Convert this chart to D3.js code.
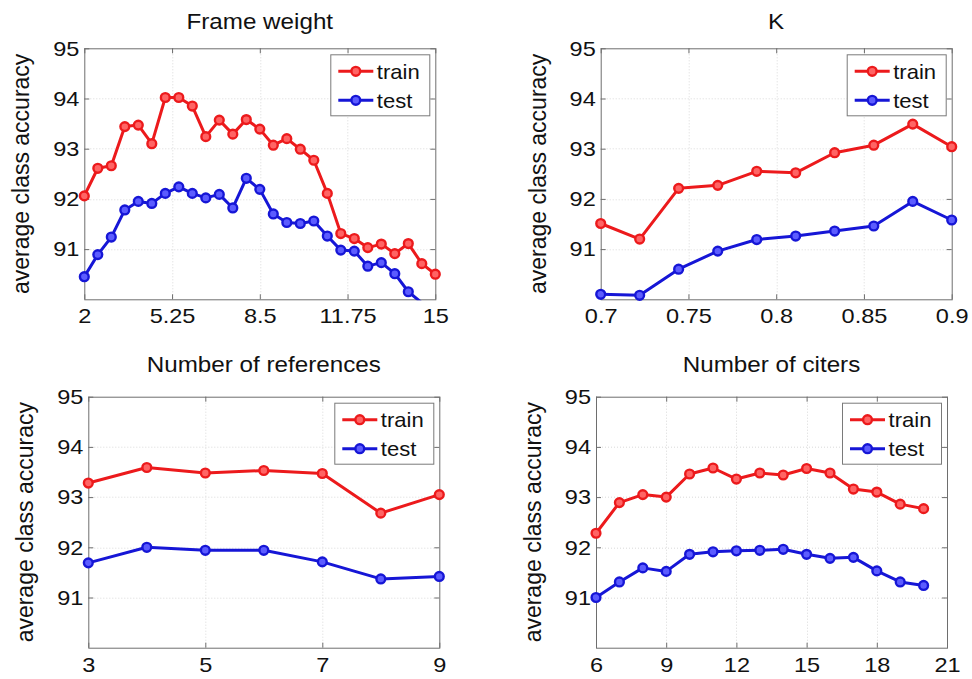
<!DOCTYPE html>
<html>
<head>
<meta charset="utf-8">
<script src="https://cdn.jsdelivr.net/npm/d3@7"></script>
<style>
  html, body { margin: 0; padding: 0; background: #fff; }
  svg { display: block; font-family: "Liberation Sans", Arial, sans-serif; }
</style>
</head>
<body>
<svg id="chart" width="972" height="679"></svg>
<script>
// ---- data ----
const accuracyTicks = [91, 92, 93, 94, 95];

const frameWeight = [2, 2.5, 3, 3.5, 4, 4.5, 5, 5.5, 6, 6.5, 7, 7.5, 8, 8.5, 9,
  9.5, 10, 10.5, 11, 11.5, 12, 12.5, 13, 13.5, 14, 14.5, 15];
const frameTrain = [92.06, 92.61, 92.66, 93.44, 93.47, 93.10, 94.02, 94.02, 93.85, 93.24,
  93.57, 93.29, 93.58, 93.39, 93.07, 93.20, 92.99, 92.77, 92.11, 91.31, 91.21, 91.03,
  91.10, 90.91, 91.11, 90.71, 90.50];
const frameTest = [90.45, 90.89, 91.24, 91.78, 91.95, 91.91, 92.11, 92.24, 92.11, 92.02,
  92.09, 91.82, 92.41, 92.19, 91.70, 91.53, 91.51, 91.56, 91.26, 90.98, 90.96, 90.66,
  90.73, 90.51, 90.15, 89.93, 89.70];
const frameTicks = [2, 5.25, 8.5, 11.75, 15];

const kValues = [0.7, 0.7222, 0.7444, 0.7667, 0.7889, 0.8111, 0.8333, 0.8556, 0.8778, 0.9];
const kTrain = [91.51, 91.20, 92.21, 92.27, 92.55, 92.52, 92.92, 93.07, 93.49, 93.04];
const kTest = [90.10, 90.08, 90.60, 90.96, 91.19, 91.26, 91.36, 91.46, 91.95, 91.58];
const kTicks = [0.7, 0.75, 0.8, 0.85, 0.9];

const refCounts = [3, 4, 5, 6, 7, 8, 9];
const refTrain = [93.28, 93.59, 93.48, 93.53, 93.47, 92.68, 93.05];
const refTest = [91.69, 92.00, 91.94, 91.94, 91.71, 91.37, 91.42];
const refTicks = [3, 5, 7, 9];

const citerCounts = [6, 7, 8, 9, 10, 11, 12, 13, 14, 15, 16, 17, 18, 19, 20];
const citerTrain = [92.28, 92.89, 93.05, 93.00, 93.46, 93.58, 93.36, 93.48, 93.44, 93.57,
  93.48, 93.16, 93.10, 92.86, 92.77];
const citerTest = [91.00, 91.31, 91.59, 91.52, 91.86, 91.91, 91.93, 91.94, 91.96, 91.86,
  91.78, 91.80, 91.53, 91.31, 91.24];
const citerTicks = [6, 9, 12, 15, 18, 21];

const seriesNames = ["train", "test"];
const yLabel = "average class accuracy";

// ---- drawing ----
const svg = d3.select("#chart");
const colors = { train: "#ec1a1c", test: "#1616d6" };
const fills = { train: "#ff6464", test: "#5c5cff" };
const plotW = 351, plotH = 251;
const STRETCH = 1.12;

const panels = [
  { title: "Frame weight", xs: frameWeight, train: frameTrain, test: frameTest, ticks: frameTicks,
    left: 84.3, top: 48.3, titleY: 28.5 },
  { title: "K", xs: kValues, train: kTrain, test: kTest, ticks: kTicks,
    left: 600.7, top: 48.3, titleY: 28.5 },
  { title: "Number of references", xs: refCounts, train: refTrain, test: refTest, ticks: refTicks,
    left: 88.3, top: 396.7, titleY: 372 },
  { title: "Number of citers", xs: citerCounts, train: citerTrain, test: citerTest, ticks: citerTicks,
    left: 596, top: 396.7, titleY: 372 }
];

function stretchText(sel, k) {
  sel.each(function () {
    const L = this.getComputedTextLength();
    if (L > 0) d3.select(this).attr("textLength", L * k).attr("lengthAdjust", "spacingAndGlyphs");
  });
}

panels.forEach((p, i) => {
  const g = svg.append("g").attr("transform", `translate(${p.left},${p.top})`);
  const x = d3.scaleLinear().domain(d3.extent(p.ticks)).range([0, plotW]);
  const y = d3.scaleLinear().domain([90, 95]).range([plotH, 0]);

  // grid
  const grid = g.append("g").attr("stroke", "#d9d9d9").attr("stroke-width", 1)
    .attr("stroke-dasharray", "1,2");
  grid.selectAll("line.gx").data(p.ticks.slice(1, -1)).join("line")
    .attr("x1", d => Math.round(x(d)) + 0.5).attr("x2", d => Math.round(x(d)) + 0.5)
    .attr("y1", 0).attr("y2", plotH);
  grid.selectAll("line.gy").data(accuracyTicks.filter(v => v < 95)).join("line")
    .attr("x1", 0).attr("x2", plotW)
    .attr("y1", d => Math.round(y(d)) + 0.5).attr("y2", d => Math.round(y(d)) + 0.5);

  // axes with inward ticks
  const fmt = d => String(d);
  const ax = [
    g.append("g").attr("transform", `translate(0,${plotH})`)
      .call(d3.axisBottom(x).tickValues(p.ticks).tickSize(-5).tickPadding(9).tickFormat(fmt)),
    g.append("g").call(d3.axisTop(x).tickValues(p.ticks).tickSize(-5).tickFormat("")),
    g.append("g").call(d3.axisLeft(y).tickValues(accuracyTicks).tickSize(-5).tickPadding(5).tickFormat(fmt)),
    g.append("g").attr("transform", `translate(${plotW},0)`)
      .call(d3.axisRight(y).tickValues(accuracyTicks).tickSize(-5).tickFormat(""))
  ];
  ax.forEach(a => {
    a.select(".domain").remove();
    a.selectAll(".tick line").attr("stroke", "#6e6e6e");
    a.selectAll("text").attr("font-size", 21).attr("fill", "#111")
      .attr("font-family", "'Liberation Sans', Arial, sans-serif");
  });
  stretchText(ax[0].selectAll("text"), STRETCH);
  stretchText(ax[2].selectAll("text"), STRETCH);

  // frame
  g.append("rect").attr("x", 0.5).attr("y", 0.5).attr("width", plotW).attr("height", plotH)
    .attr("fill", "none").attr("stroke", "#6e6e6e").attr("stroke-width", 1);

  // series: lines clipped to the plot box, markers drawn whole when their centre is inside
  const clipId = "clip" + i;
  g.append("clipPath").attr("id", clipId).append("rect")
    .attr("x", 0).attr("y", 0).attr("width", plotW + 1).attr("height", plotH + 1);
  const plot = g.append("g").attr("clip-path", `url(#${clipId})`);
  const marks = g.append("g");
  seriesNames.forEach(name => {
    const pts = p.xs.map((v, j) => [v, p[name][j]]);
    plot.append("path").datum(pts)
      .attr("fill", "none").attr("stroke", colors[name]).attr("stroke-width", 3)
      .attr("stroke-linejoin", "round")
      .attr("d", d3.line().x(d => x(d[0])).y(d => y(d[1])));
    marks.selectAll(null).data(pts.filter(d => d[1] >= y.domain()[0])).join("circle")
      .attr("cx", d => x(d[0])).attr("cy", d => y(d[1])).attr("r", 4.4)
      .attr("fill", fills[name]).attr("stroke", colors[name]).attr("stroke-width", 2.4);
  });

  // legend
  const lg = g.append("g").attr("transform", `translate(${plotW - 6 - 99},6)`);
  lg.append("rect").attr("x", 0.5).attr("y", 0.5).attr("width", 99).attr("height", 61)
    .attr("fill", "#fff").attr("stroke", "#7a7a7a");
  seriesNames.forEach((name, j) => {
    const cy = 17 + j * 29;
    lg.append("line").attr("x1", 8).attr("x2", 43).attr("y1", cy).attr("y2", cy)
      .attr("stroke", colors[name]).attr("stroke-width", 3);
    lg.append("circle").attr("cx", 25.5).attr("cy", cy).attr("r", 4.4)
      .attr("fill", fills[name]).attr("stroke", colors[name]).attr("stroke-width", 2.4);
    const t = lg.append("text").attr("x", 46.5).attr("y", cy).attr("dy", "0.36em")
      .attr("font-size", 21).attr("fill", "#111").text(name);
    stretchText(t, 1.05);
  });

  // title
  const tt = svg.append("text").attr("x", p.left + plotW / 2).attr("y", p.titleY)
    .attr("text-anchor", "middle").attr("font-size", 22).attr("fill", "#111").text(p.title);
  stretchText(tt, 1.1);

  // y label
  svg.append("text")
    .attr("transform", `translate(${p.left - 55},${p.top + plotH / 2}) rotate(-90)`)
    .attr("text-anchor", "middle").attr("font-size", 23).attr("fill", "#111").text(yLabel);
});
</script>
</body>
</html>
